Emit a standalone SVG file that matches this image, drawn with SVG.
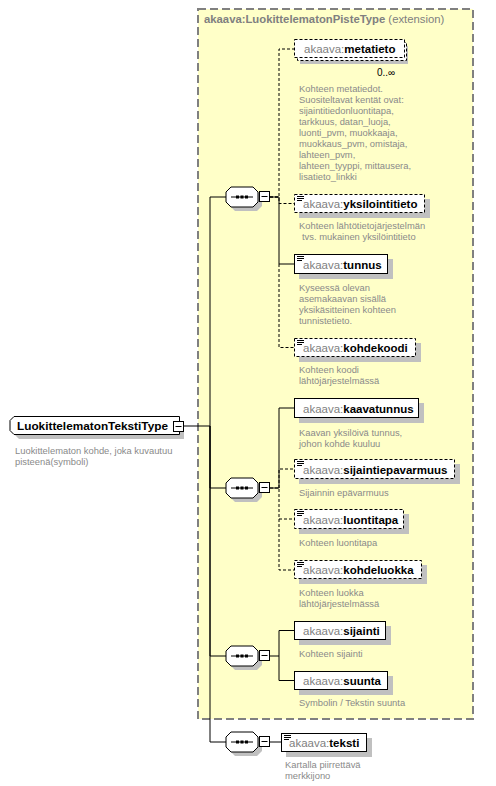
<svg xmlns="http://www.w3.org/2000/svg" xmlns:xlink="http://www.w3.org/1999/xlink" width="496" height="786" viewBox="0 0 496 786">
<style>
.bx{fill:#fff;stroke:#000;stroke-width:1}
.opt{stroke-dasharray:3,2}
.sh{fill:#c0c0c0}
.nm{font-family:"Liberation Sans",Arial,sans-serif;font-size:11.5px}
.ns{fill:#808080}
.ln{font-weight:bold;fill:#000}
.ds{font-family:"Liberation Sans",Arial,sans-serif;font-size:9.4px;fill:#8a8a8a}
.cn{fill:none;stroke:#000;stroke-width:1}
.cd{fill:none;stroke:#000;stroke-width:1;stroke-dasharray:3,2}
.ic{stroke:#000;stroke-width:1}
</style>
<defs>
<g id="seq">
<polygon class="sh" points="9,-6 31,-6 36,-1 36,9 31,14 9,14 4,9 4,-1"/>
<polygon class="bx" points="5,-10 27,-10 32,-5 32,5 27,10 5,10 0,5 0,-5"/>
<line x1="5" y1="0" x2="27" y2="0" stroke="#000"/>
<rect x="10" y="-1.5" width="3" height="3" fill="#000"/>
<rect x="14.5" y="-1.5" width="3" height="3" fill="#000"/>
<rect x="19" y="-1.5" width="3" height="3" fill="#000"/>
<rect class="bx" x="33.5" y="-5.5" width="10" height="10"/>
<line x1="35.5" y1="-0.5" x2="41.5" y2="-0.5" stroke="#000"/>
</g>
<g id="icon">
<line class="ic" x1="2.5" y1="2" x2="9.5" y2="2"/>
<line class="ic" x1="2.5" y1="4" x2="9.5" y2="4"/>
<line class="ic" x1="2.5" y1="6" x2="7.5" y2="6"/>
</g>
</defs>
<rect width="496" height="786" fill="#fff"/>

<g id="extension">
<rect x="198" y="9" width="275" height="710" fill="#ffffc8" stroke="#808080" stroke-width="2" stroke-dasharray="8,4"/>
<text x="204" y="23" font-family="Liberation Sans,Arial,sans-serif" font-size="11.3px" fill="#808080"><tspan font-weight="bold">akaava:LuokittelematonPisteType</tspan> (extension)</text>
</g>

<g id="connectors">
<path class="cn" d="M184,426 H210 V197 H226"/>
<path class="cn" d="M210,426 V488 H226"/>
<path class="cn" d="M210,426 V656 H226"/>
<path class="cn" d="M210,426 V742 H226"/>
<path class="cd" d="M270,197 H279 V49 H294"/>
<path class="cd" d="M270,197 H279 V203.5 H294"/>
<path class="cd" d="M279,264 V347.5 H294"/>
<path class="cn" d="M270,197 H279 V264 H294"/>
<path class="cd" d="M279,488 V469 H294"/>
<path class="cd" d="M270,488 H279 V570 H294"/>
<path class="cd" d="M279,519 H294"/>
<path class="cn" d="M270,488 H279 V408 H294"/>
<path class="cn" d="M270,656 H279 V630.5 H294"/>
<path class="cn" d="M279,656 V680.5 H294"/>
<path class="cn" d="M270,742 H281"/>
</g>

<g id="LuokittelematonTekstiType">
<path class="sh" d="M19,421 H184 V439 H19 L15,435 V425 Z"/>
<path class="bx" d="M14,416.5 H179.5 V434.5 H14 L10,430.5 V420.5 Z"/>
<text x="17" y="430" font-family="Liberation Sans,Arial,sans-serif" font-size="11.8px" font-weight="bold" fill="#000">LuokittelematonTekstiType</text>
<rect class="bx" x="173.5" y="421.5" width="10" height="10"/>
<line x1="175.5" y1="426.5" x2="181.5" y2="426.5" stroke="#000"/>
<text class="ds" x="15" y="453.5">Luokittelematon kohde, joka kuvautuu</text>
<text class="ds" x="15" y="464.5">pisteenä(symboli)</text>
</g>

<g id="sequence1"><use xlink:href="#seq" transform="translate(226,197)"/></g>
<g id="sequence2"><use xlink:href="#seq" transform="translate(226,488)"/></g>
<g id="sequence3"><use xlink:href="#seq" transform="translate(226,656)"/></g>
<g id="sequence4"><use xlink:href="#seq" transform="translate(226,742)"/></g>

<g id="metatieto">
<rect class="sh" x="300" y="46" width="108" height="18"/>
<rect class="bx opt" x="297.5" y="42.5" width="109" height="18"/>
<rect class="bx opt" x="294.5" y="39.5" width="110" height="18"/>
<text class="nm" x="304" y="53"><tspan class="ns">akaava:</tspan><tspan class="ln">metatieto</tspan></text>
<text x="377" y="76" font-family="Liberation Sans,Arial,sans-serif" font-size="10px" fill="#000">0..∞</text>
<text class="ds" x="299" y="91.5">Kohteen metatiedot.</text>
<text class="ds" x="299" y="102.5">Suositeltavat kentät ovat:</text>
<text class="ds" x="299" y="113.5">sijaintitiedonluontitapa,</text>
<text class="ds" x="299" y="124.5">tarkkuus, datan_luoja,</text>
<text class="ds" x="299" y="135.5">luonti_pvm, muokkaaja,</text>
<text class="ds" x="299" y="146.5">muokkaus_pvm, omistaja,</text>
<text class="ds" x="299" y="157.5">lahteen_pvm,</text>
<text class="ds" x="299" y="168.5">lahteen_tyyppi, mittausera,</text>
<text class="ds" x="299" y="179.5">lisatieto_linkki</text>
</g>

<g id="yksilointitieto">
<rect class="sh" x="299" y="199" width="131" height="19"/>
<rect class="bx opt" x="294.5" y="194.5" width="130" height="18"/>
<use xlink:href="#icon" transform="translate(294.5,194.5)"/>
<text class="nm" x="303" y="208"><tspan class="ns">akaava:</tspan><tspan class="ln">yksilointitieto</tspan></text>
<text class="ds" x="299" y="228.5">Kohteen lähtötietojärjestelmän</text>
<text class="ds" x="302" y="239.5">tvs. mukainen yksilöintitieto</text>
</g>

<g id="tunnus">
<rect class="sh" x="299" y="259" width="94" height="20"/>
<rect class="bx" x="294.5" y="254.5" width="93" height="19"/>
<use xlink:href="#icon" transform="translate(294.5,254.5)"/>
<text class="nm" x="303" y="268.5"><tspan class="ns">akaava:</tspan><tspan class="ln">tunnus</tspan></text>
<text class="ds" x="299" y="290.5">Kyseessä olevan</text>
<text class="ds" x="299" y="301.5">asemakaavan sisällä</text>
<text class="ds" x="299" y="312.5">yksikäsitteinen kohteen</text>
<text class="ds" x="299" y="323.5">tunnistetieto.</text>
</g>

<g id="kohdekoodi">
<rect class="sh" x="299" y="343" width="122" height="19"/>
<rect class="bx opt" x="294.5" y="338.5" width="121" height="18"/>
<use xlink:href="#icon" transform="translate(294.5,338.5)"/>
<text class="nm" x="303" y="352"><tspan class="ns">akaava:</tspan><tspan class="ln">kohdekoodi</tspan></text>
<text class="ds" x="299" y="372.5">Kohteen koodi</text>
<text class="ds" x="299" y="383.5">lähtöjärjestelmässä</text>
</g>

<g id="kaavatunnus">
<rect class="sh" x="299" y="403" width="125" height="20"/>
<rect class="bx" x="294.5" y="398.5" width="124" height="19"/>
<text class="nm" x="303" y="412.5"><tspan class="ns">akaava:</tspan><tspan class="ln">kaavatunnus</tspan></text>
<text class="ds" x="299" y="435.5">Kaavan yksilöivä tunnus,</text>
<text class="ds" x="299" y="446.5">johon kohde kuuluu</text>
</g>

<g id="sijaintiepavarmuus">
<rect class="sh" x="299" y="464" width="161" height="20"/>
<rect class="bx opt" x="294.5" y="459.5" width="160" height="19"/>
<use xlink:href="#icon" transform="translate(294.5,459.5)"/>
<text class="nm" x="303" y="473.5"><tspan class="ns">akaava:</tspan><tspan class="ln">sijaintiepavarmuus</tspan></text>
<text class="ds" x="299" y="495.5">Sijainnin epävarmuus</text>
</g>

<g id="luontitapa">
<rect class="sh" x="299" y="514" width="110" height="20"/>
<rect class="bx opt" x="294.5" y="509.5" width="109" height="19"/>
<use xlink:href="#icon" transform="translate(294.5,509.5)"/>
<text class="nm" x="303" y="523.5"><tspan class="ns">akaava:</tspan><tspan class="ln">luontitapa</tspan></text>
<text class="ds" x="299" y="545.5">Kohteen luontitapa</text>
</g>

<g id="kohdeluokka">
<rect class="sh" x="299" y="565" width="128" height="19"/>
<rect class="bx opt" x="294.5" y="560.5" width="127" height="18"/>
<use xlink:href="#icon" transform="translate(294.5,560.5)"/>
<text class="nm" x="303" y="574"><tspan class="ns">akaava:</tspan><tspan class="ln">kohdeluokka</tspan></text>
<text class="ds" x="299" y="595.5">Kohteen luokka</text>
<text class="ds" x="299" y="606.5">lähtöjärjestelmässä</text>
</g>

<g id="sijainti">
<rect class="sh" x="299" y="626" width="92" height="19"/>
<rect class="bx" x="294.5" y="621.5" width="91" height="18"/>
<text class="nm" x="303" y="635"><tspan class="ns">akaava:</tspan><tspan class="ln">sijainti</tspan></text>
<text class="ds" x="299" y="656.5">Kohteen sijainti</text>
</g>

<g id="suunta">
<rect class="sh" x="299" y="676" width="94" height="19"/>
<rect class="bx" x="294.5" y="671.5" width="93" height="18"/>
<text class="nm" x="303" y="685"><tspan class="ns">akaava:</tspan><tspan class="ln">suunta</tspan></text>
<text class="ds" x="299" y="705.5">Symbolin / Tekstin suunta</text>
</g>

<g id="teksti">
<rect class="sh" x="286" y="738" width="86" height="19"/>
<rect class="bx" x="281.5" y="733.5" width="85" height="18"/>
<use xlink:href="#icon" transform="translate(281.5,733.5)"/>
<text class="nm" x="289" y="747"><tspan class="ns">akaava:</tspan><tspan class="ln">teksti</tspan></text>
<text class="ds" x="285" y="767.5">Kartalla piirrettävä</text>
<text class="ds" x="285" y="778.5">merkkijono</text>
</g>
</svg>
